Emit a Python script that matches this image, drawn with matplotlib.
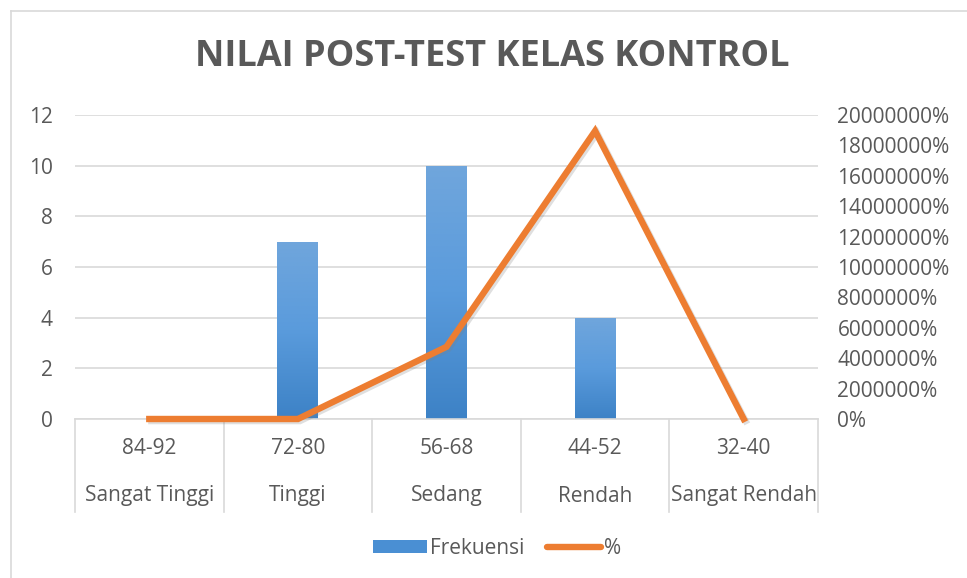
import numpy as np
import matplotlib
matplotlib.use("Agg")
import matplotlib.pyplot as plt
import matplotlib.patheffects as pe
from matplotlib.colors import LinearSegmentedColormap
from matplotlib.patches import Patch
from matplotlib.lines import Line2D
from matplotlib.ticker import FuncFormatter

# data
ranges = ["84-92", "72-80", "56-68", "44-52", "32-40"]
levels = ["Sangat Tinggi", "Tinggi", "Sedang", "Rendah", "Sangat Rendah"]
frekuensi = [0, 7, 10, 4, 0]
persen = [0, 0, 4750000, 18950000, 0]

title = "NILAI POST-TEST KELAS KONTROL"
txt = "#595959"
grid = "#d9d9d9"
blue = "#4a8fd3"
orange = "#ed7d31"
fs = 15

plt.rcParams["font.family"] = ["Open Sans", "DejaVu Sans"]

fig = plt.figure(figsize=(9.67, 5.78), dpi=100)
W, H = 967, 578

# chart border (left and top edges visible)
fig.add_artist(Line2D([11 / W, 11 / W], [0, 1 - 11 / H], color=grid, lw=1.2))
fig.add_artist(Line2D([11 / W, 1], [1 - 11 / H, 1 - 11 / H], color=grid, lw=1.2))

ax = fig.add_axes([75 / W, 1 - 419 / H, (818 - 75) / W, (419 - 115) / H])
x = np.arange(len(ranges))

bars = ax.bar(x, frekuensi, width=0.275, color="none", zorder=2)
cmap = LinearSegmentedColormap.from_list("g", ["#3d82c6", "#5a9bdc", "#70a6dc"])
grad = np.linspace(0, 1, 256).reshape(-1, 1)
for b in bars:
    if b.get_height() <= 0:
        continue
    x0, y0 = b.get_x(), b.get_y()
    im = ax.imshow(grad, extent=[x0, x0 + b.get_width(), y0, y0 + b.get_height()],
                   origin="lower", aspect="auto", cmap=cmap, zorder=2)
    im.set_clip_path(b)

ax.set_xlim(-0.5, len(ranges) - 0.5)
ax.set_ylim(0, 12)
ax.set_yticks(range(0, 13, 2))
ax.yaxis.grid(True, color=grid, lw=1.2)
ax.set_axisbelow(True)
for s in ["top", "right", "left"]:
    ax.spines[s].set_visible(False)
ax.spines["bottom"].set_color(grid)
ax.spines["bottom"].set_linewidth(1.2)
ax.tick_params(axis="y", length=0, pad=16, labelsize=fs, labelcolor=txt)
ax.set_xticks([])

# two-level category axis
sep_bottom = -(512 - 419) / (419 - 115)
for b in np.arange(-0.5, len(ranges), 1.0):
    ax.plot([b, b], [0, sep_bottom], transform=ax.get_xaxis_transform(),
            color=grid, lw=1.2, clip_on=False)
for i in x:
    ax.text(i, -(449 - 419) / 304, ranges[i], transform=ax.get_xaxis_transform(),
            ha="center", va="center", fontsize=fs, color=txt)
    ax.text(i, -(496 - 419) / 304, levels[i], transform=ax.get_xaxis_transform(),
            ha="center", va="center", fontsize=fs, color=txt)

ax2 = ax.twinx()
ax2.plot(x, persen, color=orange, lw=4.6, solid_joinstyle="miter", clip_on=False, zorder=3,
         path_effects=[pe.SimpleLineShadow(offset=(1.5, -1.5), alpha=0.25, shadow_color="gray"),
                       pe.Normal()])
ax2.set_ylim(0, 20000000)
ax2.set_yticks(range(0, 20000001, 2000000))
ax2.yaxis.set_major_formatter(FuncFormatter(lambda v, p: f"{int(v)}%"))
ax2.tick_params(axis="y", length=0, pad=14, labelsize=fs, labelcolor=txt)
for s in ax2.spines.values():
    s.set_visible(False)

fig.text(492 / W, 1 - 57 / H, title, ha="center", va="center", fontsize=26,
         fontweight="bold", color=txt)

handles = [Patch(facecolor=blue), Line2D([0], [0], color=orange, lw=4.6, solid_capstyle="round")]
fig.legend(handles, ["Frekuensi", "%"], loc="center", bbox_to_anchor=(497 / W, 1 - 548 / H),
           ncol=2, frameon=False, fontsize=fs, labelcolor=txt, handlelength=2.6,
           handleheight=0.6, columnspacing=1.1, handletextpad=0.15)

fig.savefig("out.png", dpi=100)
